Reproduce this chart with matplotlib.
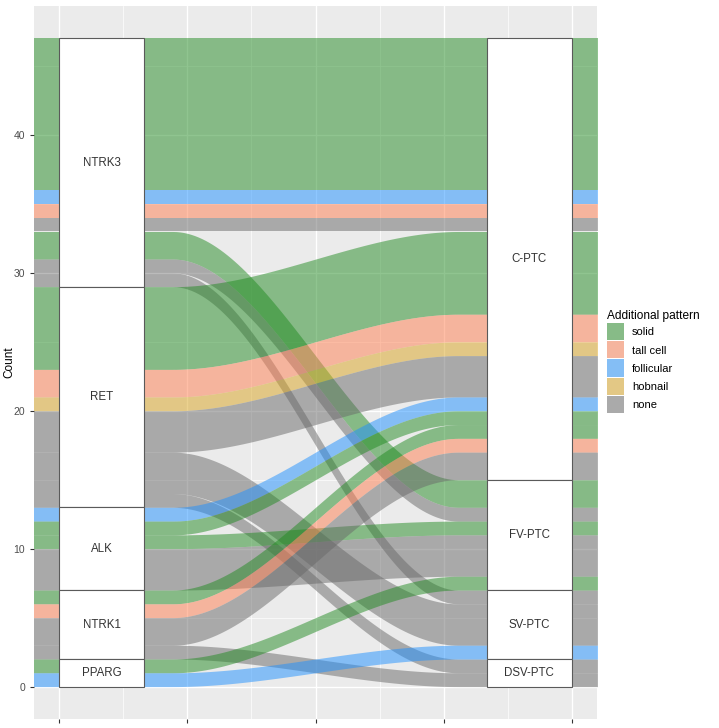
import numpy as np
import matplotlib.pyplot as plt
from matplotlib.patches import Rectangle, Patch

plt.rcParams['font.family'] = ['Liberation Sans', 'DejaVu Sans']

# one row per flow: gene (left axis) -> subtype (right axis), pattern, count
gene = ["NTRK3", "NTRK3", "NTRK3", "NTRK3", "NTRK3", "NTRK3", "NTRK3",
        "RET", "RET", "RET", "RET", "RET", "RET",
        "ALK", "ALK", "ALK", "ALK",
        "NTRK1", "NTRK1", "NTRK1", "NTRK1",
        "PPARG", "PPARG"]
subtype = ["C-PTC", "C-PTC", "C-PTC", "C-PTC", "FV-PTC", "FV-PTC", "SV-PTC",
           "C-PTC", "C-PTC", "C-PTC", "C-PTC", "SV-PTC", "DSV-PTC",
           "C-PTC", "C-PTC", "FV-PTC", "FV-PTC",
           "C-PTC", "C-PTC", "C-PTC", "DSV-PTC",
           "FV-PTC", "SV-PTC"]
pattern = ["solid", "follicular", "tall cell", "none", "solid", "none", "none",
           "solid", "tall cell", "hobnail", "none", "none", "none",
           "follicular", "solid", "solid", "none",
           "solid", "tall cell", "none", "none",
           "solid", "follicular"]
count = [11, 1, 1, 1, 2, 1, 1,
         6, 2, 1, 3, 3, 1,
         1, 1, 1, 3,
         1, 1, 2, 1,
         1, 1]

genes = ["NTRK3", "RET", "ALK", "NTRK1", "PPARG"]
subtypes = ["C-PTC", "FV-PTC", "SV-PTC", "DSV-PTC"]
patterns = ["solid", "tall cell", "follicular", "hobnail", "none"]
pal = {"solid": "#228B22", "tall cell": "#FF7F50", "follicular": "#1E90FF",
       "hobnail": "#DAA520", "none": "#696969"}

bg = np.array([235, 235, 235]) / 255


def blend(c, a=0.5):
    rgb = np.array(plt.matplotlib.colors.to_rgb(c))
    return tuple(a * rgb + (1 - a) * bg)


n = len(count)
total = sum(count)


def stack(groups, gkey, skey, sorder):
    tops = np.zeros(n)
    bounds = []
    y = total
    for g in groups:
        idx = [i for i in range(n) if gkey[i] == g]
        idx.sort(key=lambda i: (sorder.index(skey[i]), i))
        start = y
        for i in idx:
            tops[i] = y
            y -= count[i]
        bounds.append((g, y, start))
    return tops, bounds


left_top, left_bounds = stack(genes, gene, subtype, subtypes)
right_top, right_bounds = stack(subtypes, subtype, gene, genes)

fig = plt.figure(figsize=(7.19, 7.28), dpi=100)
ax = fig.add_axes([34 / 719, 9 / 728, 563 / 719, 713 / 728])
ax.set_facecolor("#EBEBEB")
ax.set_xlim(0.842, 2.158)
ax.set_ylim(-2.35, 49.35)

ax.set_xticks([0.9, 1.2, 1.5, 1.8, 2.1])
ax.set_xticks([1.05, 1.35, 1.65, 1.95], minor=True)
ax.set_xticklabels([])
ax.set_yticks([0, 10, 20, 30, 40])
ax.set_yticks([5, 15, 25, 35, 45], minor=True)
ax.grid(which="major", color="white", lw=1.0)
ax.grid(which="minor", color="white", lw=0.5)
ax.set_axisbelow(True)
for s in ax.spines.values():
    s.set_visible(False)
ax.tick_params(axis="both", which="major", length=3, color="#333333",
               labelsize=7.5, labelcolor="#4D4D4D")
ax.tick_params(axis="both", which="minor", length=0)
ax.set_ylabel("Count", fontsize=8.5, color="black")
ax.yaxis.set_label_coords(-0.033, 0.5)

w = 1 / 3
t = np.linspace(0, 1, 80)
s = t * t * (3 - 2 * t)
xs = np.concatenate([[1 - w / 2], 1 + w / 2 + (1 - w) * t, [2 + w / 2]])
for i in range(n):
    up = np.concatenate([[left_top[i]], left_top[i] + (right_top[i] - left_top[i]) * s, [right_top[i]]])
    ax.fill_between(xs, up - count[i], up, color=pal[pattern[i]], alpha=0.5, lw=0)

sw = 0.2
for xc, bounds in [(1, left_bounds), (2, right_bounds)]:
    for name, lo, hi in bounds:
        ax.add_patch(Rectangle((xc - sw / 2, lo), sw, hi - lo, facecolor="white",
                               edgecolor="#5A5A5A", lw=0.8, zorder=3))
        ax.text(xc, (lo + hi) / 2, name, ha="center", va="center", fontsize=8.3,
                color="#333333", zorder=4)

handles = [Patch(facecolor=blend(pal[p]), edgecolor="none", label=p) for p in patterns]
leg = fig.legend(handles=handles, title="Additional pattern", loc="upper left",
                 bbox_to_anchor=(603 / 719, 1 - 306 / 728), frameon=False,
                 fontsize=8, title_fontsize=8.6, handlelength=1.53, handleheight=1.98,
                 labelspacing=0.09, handletextpad=0.7, alignment="left", borderaxespad=0)

fig.savefig("out.png", dpi=100)
